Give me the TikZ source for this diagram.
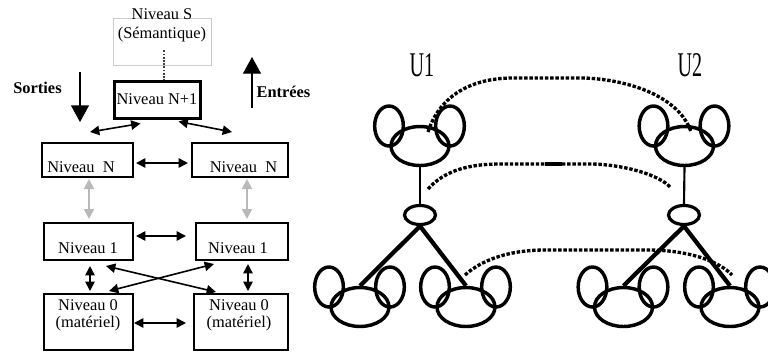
\documentclass[tikz,border=0pt]{standalone}
\usepackage{fontspec}
\setmainfont{Liberation Serif}
\usetikzlibrary{arrows.meta, shapes.geometric, calc}
\definecolor{grisfl}{RGB}{185,185,185}

\begin{document}
\begin{tikzpicture}[x=0.75pt, y=-0.75pt, font=\fontsize{12.3}{14.5}\selectfont,
    niv/.style={draw, line width=1.5pt, inner sep=0pt},
    txt/.style={inner sep=0pt, align=center},
    dbl/.style={<->, >={Triangle[length=7pt,width=7pt]}, line width=1.2pt},
    dblgris/.style={<->, >={Triangle[length=7.5pt,width=7.5pt]}, line width=1.4pt, grisfl},
    gros/.style={-{Triangle[length=12.5pt,width=13.5pt]}, line width=1pt},
    grand/.style={ellipse, draw, line width=2.6pt, inner sep=0pt, minimum width=43.5pt, minimum height=29.25pt},
    noeud/.style={ellipse, draw, line width=2.4pt, inner sep=0pt, minimum width=23.25pt, minimum height=14.25pt},
    lien/.style={line width=2.5pt, dash pattern=on 2.6pt off 1.3pt}]
            \useasboundingbox (0,0) rectangle (768,351);

            % pile de niveaux
            \node[niv, draw=gray!40, line width=0.6pt, minimum width=73.5pt, minimum height=35.25pt] (sem) at (162,41.5) {};
            \node[txt] (semt) at (162,25.5) {Niveau S\\(Sémantique)};
            \node[niv, line width=2.25pt, minimum width=64.5pt, minimum height=27.75pt] (nN1) at (157,99.5) {Niveau N+1};
            \node[niv, minimum width=68.25pt, minimum height=25.5pt] (nNg) at (87.5,160) {};
            \node[niv, minimum width=72pt, minimum height=25.5pt] (nNd) at (240,160) {};
            \node[niv, minimum width=66.75pt, minimum height=27.75pt] (n1g) at (88.5,241.5) {};
            \node[niv, minimum width=69pt, minimum height=27.75pt] (n1d) at (242,241.5) {};
            \node[niv, minimum width=66.75pt, minimum height=42pt] (n0g) at (88.5,322) {};
            \node[niv, minimum width=70.5pt, minimum height=42pt] (n0d) at (241,322) {};

            \node[txt] (tNg) at (81,167) {Niveau\ \ N};
            \node[txt] (tNd) at (243.5,167) {Niveau\ \ N};
            \node[txt] (t1g) at (88,248) {Niveau 1};
            \node[txt] (t1d) at (238,248) {Niveau 1};
            \node[txt, font=\fontsize{12.3}{12.8}\selectfont] (t0g) at (88,315) {Niveau 0\\(matériel)};
            \node[txt, font=\fontsize{12.3}{12.8}\selectfont] (t0d) at (239,315) {Niveau 0\\(matériel)};
            \node[txt, font=\fontsize{12.3}{14}\selectfont\bfseries] (sorties) at (37.5,88) {Sorties};
            \node[txt, font=\fontsize{12.3}{14}\selectfont\bfseries] (entrees) at (283.5,92) {Entrées};

            % sens de parcours
            \coordinate (sH) at (80,72);
            \coordinate (sB) at (80,122);
            \coordinate (eB) at (252,108);
            \coordinate (eH) at (252,57);
            \draw[gros] (sH) -- (sB);
            \draw[gros] (eB) -- (eH);

            \draw[densely dotted, line width=1.4pt, black!75] ($(sem.south)+(2,-15)$) -- ($(nN1.north)+(7,0)$);
            \draw[dbl] ($(nN1.south west)+(28,4)$) -- ($(nNg.north)+(2.5,-10)$);
            \draw[dbl] ($(nN1.south east)+(-23,2)$) -- ($(nNd.north)+(-8,-10)$);
            \draw[dbl] ($(nNg.east)+(2,3)$) -- ($(nNd.west)+(-3,3)$);
            \draw[dblgris] ($(nNg.south)+(1.5,1)$) -- ($(n1g.north)+(0.5,-3)$);
            \draw[dblgris] ($(nNd.south)+(7,1)$) -- ($(n1d.north)+(5,-3)$);
            \draw[dbl] ($(n1g.east)+(2,-5.5)$) -- ($(n1d.west)+(-9,-5.5)$);
            \draw[dbl] ($(n1g.south)+(1.5,5)$) -- ($(n0g.north)+(1.5,-2)$);
            \draw[dbl] ($(n1d.south)+(6,3)$) -- ($(n0d.north)+(7,-2)$);
            \draw[dbl] ($(n1g.south east)+(-28,5)$) -- ($(n0d.north west)+(23,-1)$);
            \draw[dbl] ($(n1d.south west)+(19,3)$) -- ($(n0g.north east)+(-25,-2)$);
            \draw[dbl] ($(n0g.east)+(0,1)$) -- ($(n0d.west)+(-7,1)$);

            % les deux arbres U1 et U2
            \node[inner sep=0pt, font=\fontsize{26}{26}\selectfont] (u1) at (422,65) {\scalebox{0.58}[1]{U1}};
            \node[inner sep=0pt, font=\fontsize{26}{26}\selectfont] (u2) at (690,65) {\scalebox{0.58}[1]{U2}};
            \node[grand] (t1) at (420,146) {};
            \node[grand] (t2) at (684.5,146) {};
            \node[noeud] (k1) at (420,215) {};
            \node[noeud] (k2) at (684,215) {};
            \node[grand] (b1) at (360,307) {};
            \node[grand] (b2) at (466,307) {};
            \node[grand] (b3) at (623.5,307) {};
            \node[grand] (b4) at (730,307) {};
            \foreach \cl in {t1,t2,b1,b2,b3,b4}{
                \draw[line width=2.6pt] ($(\cl)+(-31,-20)$) ellipse [x radius=10.75pt, y radius=15pt];
                \draw[line width=2.6pt] ($(\cl)+(30,-20)$) ellipse [x radius=10.75pt, y radius=15pt];
            }
            \draw[line width=1.6pt] (t1.south) -- (k1.north);
            \draw[line width=1.6pt] (t2.south) -- (k2.north);
            \draw[line width=3.2pt] (k1.south) -- (b1.north);
            \draw[line width=3.2pt] (k1.south) -- (b2.north);
            \draw[line width=3.2pt] (k2.south) -- (b3.north);
            \draw[line width=3.2pt] (k2.south) -- (b4.north);

            % correspondances entre niveaux
            \draw[lien] ($(t1)+(8,-14)$) .. controls (440,95) and (472,78) .. (513,78) -- (585,78) .. controls (632,80) and (680,98) .. ($(t2)+(6.5,-14)$);
            \draw[lien] ($(k1)+(8,-26)$) .. controls (445,170) and (470,164) .. (500,164) -- (545,164);
            \draw[line width=3.2pt] (545,164) -- (562,164);
            \draw[lien] (562,164) -- (593,164) .. controls (625,165) and (660,175) .. ($(k2)+(-13,-27)$);
            \draw[lien] ($(b2)+(-1,-32)$) .. controls (485,257) and (515,250) .. (545,250) -- (648,250) .. controls (690,250) and (720,262) .. ($(b4)+(2,-32)$);
        \end{tikzpicture}
\end{document}
